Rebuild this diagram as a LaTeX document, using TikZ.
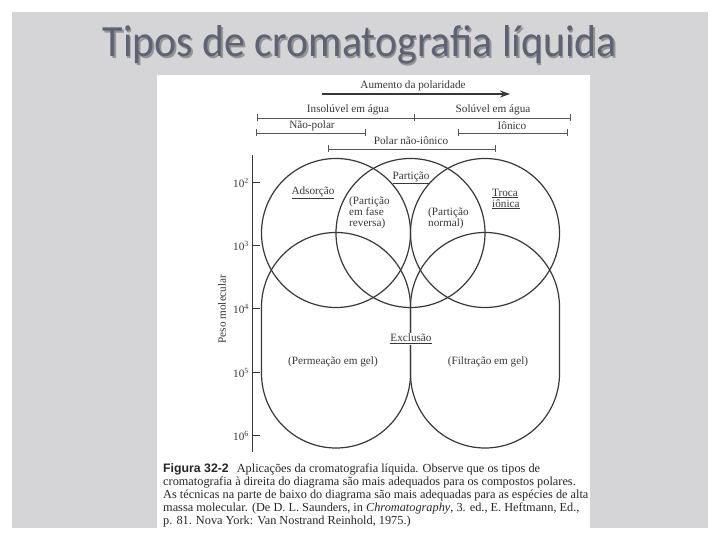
\documentclass[tikz,border=0pt]{standalone}
\usepackage{fontspec}
\usepackage{graphicx}
\setmainfont{Liberation Serif}
\newfontfamily\titlefont{Carlito}
\newfontfamily\figurafont{Liberation Sans}
\usetikzlibrary{
  positioning,
  arrows.meta
}
\definecolor{slidegray}{HTML}{D5D5D7}
\definecolor{titleslate}{HTML}{5D6372}
\definecolor{ink}{HTML}{383838}
\newcommand{\slidetitle}{Tipos de cromatografia líquida}

\begin{document}
\begin{tikzpicture}[x=1pt, y=-1pt,
  lbl/.style={font=\fontsize{11.2}{11}\selectfont, text=ink, inner sep=0pt},
  capt/.style={font=\fontsize{12.3}{13}\selectfont, text=black!85, align=left, inner sep=0pt},
  region/.style={draw=ink, line width=1.2pt, circle, minimum size=149pt, inner sep=0pt},
  stadium/.style={draw=ink, line width=1.2pt, rectangle, rounded corners=74.5pt,
                  minimum width=149pt, minimum height=215.5pt, inner sep=0pt},
  faixa/.style={{Bar[width=7pt]}-{Bar[width=7pt]}, line width=0.7pt, draw=ink!85},
  polarr/.style={-{Stealth[length=10pt, width=7pt]}, line width=1.8pt, ink},
  axtick/.style={line width=0.9pt, ink}
]
  \useasboundingbox (0,0) rectangle (720,540);

  % Slide and scanned figure
  \fill[white] (0,0) rectangle (720,540);
  \fill[slidegray] (12,12) rectangle (708,528);
  \fill[white] (157,75) rectangle (590,540);

  % Title
  \node[anchor=base, text=black, opacity=0.3] (titleshadow) at (361.5,58.5)
    {\resizebox{514pt}{31pt}{\titlefont\slidetitle}};
  \node[anchor=base, text=titleslate] (title) at (360,57)
    {\resizebox{514pt}{31pt}{\titlefont\slidetitle}};

  % Polarity scale
  \node[lbl] (aumento) at (413,86) {Aumento da polaridade};
  \draw[polarr] (322,94) -- (510,94);

  \node[lbl] (insol) at (348,110) {Insolúvel em água};
  \node[lbl] (sol) at (493,110) {Solúvel em água};
  \draw[faixa] (257,118) -- (571,118);
  \draw[line width=0.7pt, ink!85] (414,114.5) -- (414,121.5);

  \node[lbl] (naopolar) at (312,126) {Não-polar};
  \node[lbl] (ionico) at (512,126) {Iônico};
  \draw[faixa] (256,133) -- (366,133);
  \draw[faixa] (458,133) -- (568,133);

  \node[lbl] (polar) at (411,141) {Polar não-iônico};
  \draw[faixa] (328,149) -- (496,149);

  % Molecular weight axis
  \draw[line width=0.9pt, ink] (252,155) -- (252,452);
  \foreach \e/\y in {2/182,3/245,4/308,5/372,6/435} {
    \draw[axtick] (252,\y) -- (260,\y);
    \node[lbl, anchor=east] (exp\e) at (249,\y+0.5) {10\textsuperscript{\e}};
  }
  \node[lbl, rotate=90] (peso) at (222,309) {Peso molecular};

  % Top circles
  \node[region] (adsorcao) at (336,233) {};
  \node[region] (particao) at (410.5,233) {};
  \node[region] (troca) at (485,233) {};

  % Bottom regions
  \node[stadium] (permeacao) at (336,340.25) {};
  \node[stadium] (filtracao) at (485,340.25) {};

  % Region labels
  \node[lbl] (adslbl) at (313,193) {\underline{Adsorção}};
  \node[lbl] (partlbl) at (411,178) {\underline{Partição}};
  \node[lbl, anchor=west, align=left] (revlbl) at (349,213)
    {(Partição\\em fase\\reversa)};
  \node[lbl, anchor=west, align=left] (normlbl) at (428,218)
    {(Partição\\normal)};
  \node[lbl, anchor=west, align=left] (trocalbl) at (492,199)
    {\underline{Troca}\\\underline{iônica}};
  \node[lbl, fill=white, inner sep=1.5pt] (exclbl) at (411,339) {\underline{Exclusão}};
  \node[lbl] (permlbl) at (333,362) {(Permeação em gel)};
  \node[lbl] (filtlbl) at (488,362) {(Filtração em gel)};

  % Caption
  \node[capt, anchor=north west] (legenda) at (163,463) {
    {\figurafont\bfseries Figura 32-2}\hspace{8pt}Aplicações da cromatografia líquida. Observe que os tipos de\\
    cromatografia à direita do diagrama são mais adequados para os compostos polares.\\
    As técnicas na parte de baixo do diagrama são mais adequadas para as espécies de alta\\
    massa molecular. (De D. L. Saunders, in \textit{Chromatography}, 3. ed., E. Heftmann, Ed.,\\
    p. 81. Nova York: Van Nostrand Reinhold, 1975.)
  };

\end{tikzpicture}
\end{document}
